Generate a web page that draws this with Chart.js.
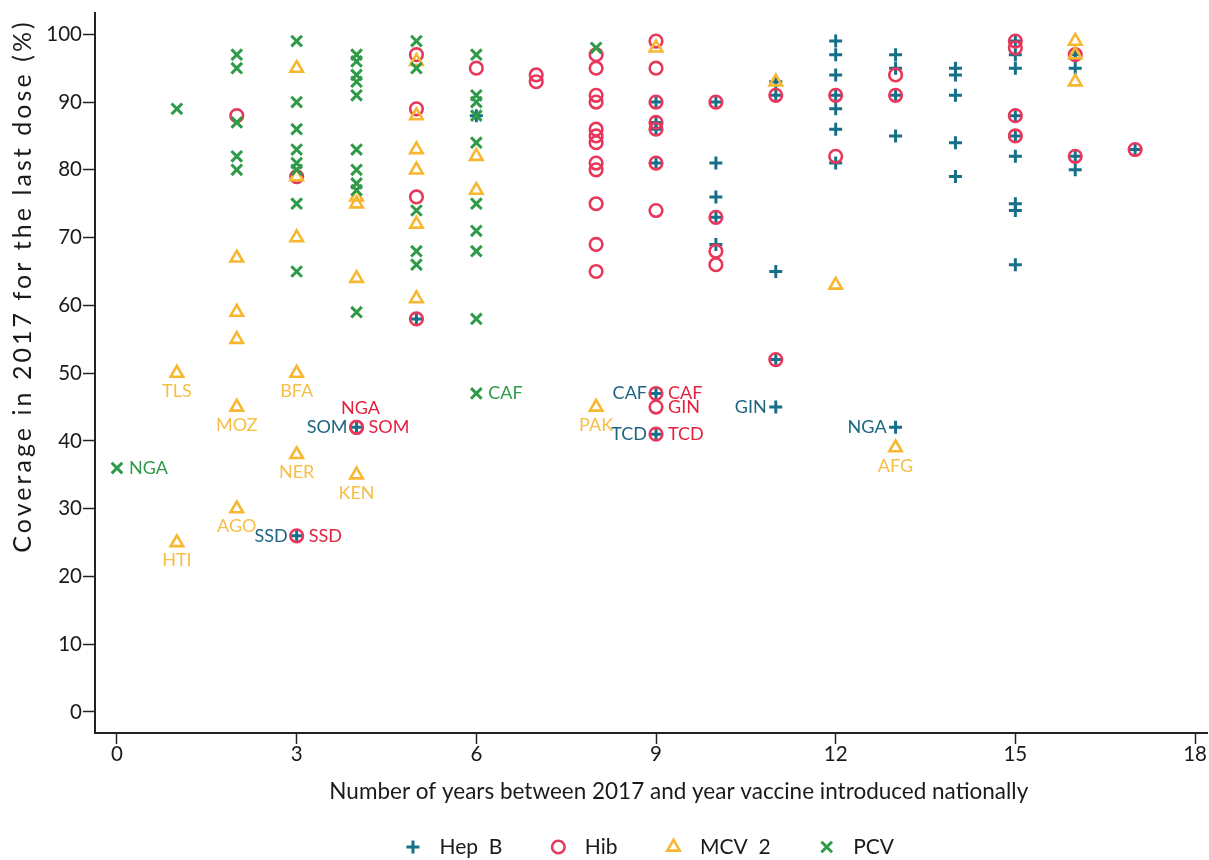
<!DOCTYPE html>
<html>
<head>
<meta charset="utf-8">
<title>Coverage by years since vaccine introduction</title>
<script src="https://cdn.jsdelivr.net/npm/chart.js@4.4.1/dist/chart.umd.min.js"></script>
<style>
  html, body { margin: 0; padding: 0; background: #ffffff; }
  canvas { display: block; }
</style>
</head>
<body>
<canvas id="chart" width="1209" height="860"></canvas>
<script>
// Years since introduction (x), coverage % for the last dose (y), optional country code
const hepbX = [3, 4, 5, 6, 9, 9, 9, 9, 9, 9, 10, 10, 10, 10, 10, 11, 11, 11, 11, 11,
  12, 12, 12, 12, 12, 12, 12, 13, 13, 13, 13, 13, 14, 14, 14, 14, 14,
  15, 15, 15, 15, 15, 15, 15, 15, 15, 16, 16, 16, 16, 17];
const hepbY = [26, 42, 58, 88, 90, 87, 86, 81, 47, 41, 90, 81, 76, 73, 69, 93, 91, 65, 52, 45,
  99, 97, 94, 91, 89, 86, 81, 97, 95, 91, 85, 42, 95, 94, 91, 84, 79,
  99, 97, 95, 88, 85, 82, 75, 74, 66, 97, 95, 82, 80, 83];
const hepbCodes = ['SSD', 'SOM', '', '', '', '', '', '', 'CAF', 'TCD', '', '', '', '', '', '', '', '', '', 'GIN',
  '', '', '', '', '', '', '', '', '', '', '', 'NGA', '', '', '', '', '',
  '', '', '', '', '', '', '', '', '', '', '', '', '', ''];

const hibX = [2, 3, 3, 4, 4, 5, 5, 5, 5, 6, 7, 7,
  8, 8, 8, 8, 8, 8, 8, 8, 8, 8, 8, 8,
  9, 9, 9, 9, 9, 9, 9, 9, 9, 9,
  10, 10, 10, 10, 11, 11, 12, 12, 13, 13, 15, 15, 15, 15, 16, 16, 17];
const hibY = [88, 79, 26, 42, 42, 97, 89, 76, 58, 95, 94, 93,
  97, 95, 91, 90, 86, 85, 84, 81, 80, 75, 69, 65,
  99, 95, 90, 87, 86, 81, 74, 47, 45, 41,
  90, 73, 68, 66, 91, 52, 91, 82, 94, 91, 99, 98, 88, 85, 97, 82, 83];
const hibCodes = ['', '', 'SSD', 'NGA', 'SOM', '', '', '', '', '', '', '',
  '', '', '', '', '', '', '', '', '', '', '', '',
  '', '', '', '', '', '', '', 'CAF', 'GIN', 'TCD',
  '', '', '', '', '', '', '', '', '', '', '', '', '', '', '', '', ''];

const mcv2X = [1, 1, 2, 2, 2, 2, 2, 3, 3, 3, 3, 3, 4, 4, 4, 4,
  5, 5, 5, 5, 5, 5, 6, 6, 8, 9, 11, 12, 13, 16, 16, 16];
const mcv2Y = [50, 25, 67, 59, 55, 45, 30, 95, 79, 70, 50, 38, 76, 75, 64, 35,
  96, 88, 83, 80, 72, 61, 82, 77, 45, 98, 93, 63, 39, 99, 97, 93];
const mcv2Codes = ['TLS', 'HTI', '', '', '', 'MOZ', 'AGO', '', '', '', 'BFA', 'NER', '', '', '', 'KEN',
  '', '', '', '', '', '', '', '', 'PAK', '', '', '', 'AFG', '', '', ''];

const pcvX = [0, 1, 2, 2, 2, 2, 2, 3, 3, 3, 3, 3, 3, 3, 3,
  4, 4, 4, 4, 4, 4, 4, 4, 4, 4, 5, 5, 5, 5, 5,
  6, 6, 6, 6, 6, 6, 6, 6, 6, 6, 8];
const pcvY = [36, 89, 97, 95, 87, 82, 80, 99, 90, 86, 83, 81, 80, 75, 65,
  97, 96, 94, 93, 91, 83, 80, 78, 77, 59, 99, 95, 74, 68, 66,
  97, 91, 90, 88, 84, 75, 71, 68, 58, 47, 98];
const pcvCodes = ['NGA', '', '', '', '', '', '', '', '', '', '', '', '', '', '',
  '', '', '', '', '', '', '', '', '', '', '', '', '', '', '',
  '', '', '', '', '', '', '', '', '', 'CAF', ''];

const seriesNames = ['Hep  B', 'Hib', 'MCV  2', 'PCV'];
const xTicks = [0, 3, 6, 9, 12, 15, 18];
const yTicks = [0, 10, 20, 30, 40, 50, 60, 70, 80, 90, 100];
const xTitle = 'Number of years between 2017 and year vaccine introduced nationally';
const yTitle = 'Coverage in 2017 for the last dose (%)';

const FONT = 'Lato, "Open Sans", "DejaVu Sans", sans-serif';
const TEXT = '#1a1a1a';
const COLORS = {
  hepb: '#17708a', hib: '#e8375b', mcv2: '#f8b730', pcv: '#2f9a48'
};
const LABEL_COLORS = {
  hepb: '#1d6580', hib: '#e3223f', mcv2: '#f7be45', pcv: '#2f9a48'
};

function points(xs, ys) {
  return xs.map((x, i) => ({ x: x, y: ys[i] }));
}

// Which side of the marker each series writes its country codes on
const labelSide = { hepb: 'left', hib: 'right', mcv2: 'below', pcv: 'right' };
const labelSideOverride = [{ key: 'hib', code: 'NGA', side: 'above' }];

const datasets = [
  { key: 'hepb', label: seriesNames[0], data: points(hepbX, hepbY), codes: hepbCodes,
    pointStyle: 'cross', pointRadius: 6.5, pointBorderWidth: 3,
    borderColor: COLORS.hepb, backgroundColor: COLORS.hepb, order: 4 },
  { key: 'hib', label: seriesNames[1], data: points(hibX, hibY), codes: hibCodes,
    pointStyle: 'circle', pointRadius: 6.3, pointBorderWidth: 2.6,
    borderColor: COLORS.hib, backgroundColor: 'rgba(0,0,0,0)', order: 3 },
  { key: 'mcv2', label: seriesNames[2], data: points(mcv2X, mcv2Y), codes: mcv2Codes,
    pointStyle: 'triangle', pointRadius: 7.2, pointBorderWidth: 2.6,
    borderColor: COLORS.mcv2, backgroundColor: 'rgba(0,0,0,0)', order: 2 },
  { key: 'pcv', label: seriesNames[3], data: points(pcvX, pcvY), codes: pcvCodes,
    pointStyle: 'crossRot', pointRadius: 7.5, pointBorderWidth: 3,
    borderColor: COLORS.pcv, backgroundColor: COLORS.pcv, order: 1 }
];

// Country code annotations next to selected markers
const codeLabels = {
  id: 'codeLabels',
  afterDatasetsDraw(chart) {
    const ctx = chart.ctx;
    ctx.save();
    ctx.font = '18px ' + FONT;
    chart.data.datasets.forEach((ds, di) => {
      const meta = chart.getDatasetMeta(di);
      ds.codes.forEach((code, i) => {
        if (!code) return;
        const el = meta.data[i];
        let side = labelSide[ds.key];
        labelSideOverride.forEach(o => { if (o.key === ds.key && o.code === code) side = o.side; });
        ctx.fillStyle = LABEL_COLORS[ds.key];
        ctx.textBaseline = 'middle';
        let tx = el.x, ty = el.y;
        if (side === 'left') { ctx.textAlign = 'right'; tx = el.x - 9; }
        else if (side === 'right') { ctx.textAlign = 'left'; tx = el.x + 12; }
        else if (side === 'below') { ctx.textAlign = 'center'; ty = el.y + 18; }
        else { ctx.textAlign = 'center'; tx = el.x + 4; ty = el.y - 19; }
        ctx.fillText(code, tx, ty);
      });
    });
    ctx.restore();
  }
};

// X tick labels and axis titles
const axisText = {
  id: 'axisText',
  afterDraw(chart) {
    const ctx = chart.ctx;
    const area = chart.chartArea;
    const xs = chart.scales.x;
    ctx.save();
    ctx.fillStyle = TEXT;
    ctx.textBaseline = 'middle';
    ctx.textAlign = 'center';
    ctx.font = '20.5px ' + FONT;
    xTicks.forEach(v => ctx.fillText(String(v), xs.getPixelForValue(v), xs.top + 21));

    ctx.font = '22.5px ' + FONT;
    ctx.fillText(xTitle, area.left + (area.right - area.left) * 0.525, 792);

    ctx.translate(23, area.top + 6);
    ctx.rotate(-Math.PI / 2);
    ctx.font = '25px ' + FONT;
    if ('letterSpacing' in ctx) ctx.letterSpacing = '3.05px';
    ctx.textAlign = 'right';
    ctx.fillText(yTitle, 0, 0);
    ctx.restore();
  }
};

// Legend row under the axis title
const bottomLegend = {
  id: 'bottomLegend',
  afterDraw(chart) {
    const ctx = chart.ctx;
    const y = 847;
    const symToText = 26.5, textToSym = 56, half = 7;
    ctx.save();
    ctx.font = '21px ' + FONT;
    const widths = chart.data.datasets.map(ds => ctx.measureText(ds.label).width);
    let total = half;
    widths.forEach((w, i) => { total += symToText + w + (i < widths.length - 1 ? textToSym : 0); });
    let cx = 650 - total / 2 + half;
    chart.data.datasets.forEach((ds, i) => {
      ctx.strokeStyle = ds.borderColor;
      ctx.fillStyle = 'rgba(0,0,0,0)';
      ctx.lineWidth = ds.pointBorderWidth;
      Chart.helpers.drawPoint(ctx, {
        pointStyle: ds.pointStyle, radius: ds.pointRadius, rotation: 0, borderWidth: ds.pointBorderWidth
      }, cx, y);
      ctx.fillStyle = TEXT;
      ctx.textAlign = 'left';
      ctx.textBaseline = 'middle';
      ctx.fillText(ds.label, cx + symToText, y);
      cx += symToText + widths[i] + textToSym;
    });
    ctx.restore();
  }
};

new Chart(document.getElementById('chart'), {
  type: 'scatter',
  data: { datasets: datasets },
  options: {
    responsive: false,
    animation: false,
    devicePixelRatio: 1,
    layout: { autoPadding: false, padding: { top: 12, right: 2, left: 0, bottom: 0 } },
    plugins: {
      legend: { display: false },
      tooltip: { enabled: false }
    },
    scales: {
      x: {
        type: 'linear',
        min: -0.367,
        max: 18.2,
        afterBuildTicks(scale) { scale.ticks = xTicks.map(v => ({ value: v })); },
        afterFit(scale) { scale.height = 127; },
        ticks: { display: false },
        grid: { drawOnChartArea: false, drawTicks: true, tickLength: 11, tickWidth: 1.5, tickColor: '#222', color: '#222' },
        border: { display: true, color: '#222', width: 2 }
      },
      y: {
        type: 'linear',
        min: -3.1,
        max: 103.1,
        afterBuildTicks(scale) { scale.ticks = yTicks.map(v => ({ value: v })); },
        afterFit(scale) { scale.width = 95; },
        ticks: { font: { family: FONT, size: 20.5 }, color: TEXT, padding: 1 },
        grid: { drawOnChartArea: false, drawTicks: true, tickLength: 12, tickWidth: 1.5, tickColor: '#222', color: '#222' },
        border: { display: true, color: '#222', width: 2 }
      }
    }
  },
  plugins: [codeLabels, axisText, bottomLegend]
});
</script>
</body>
</html>
